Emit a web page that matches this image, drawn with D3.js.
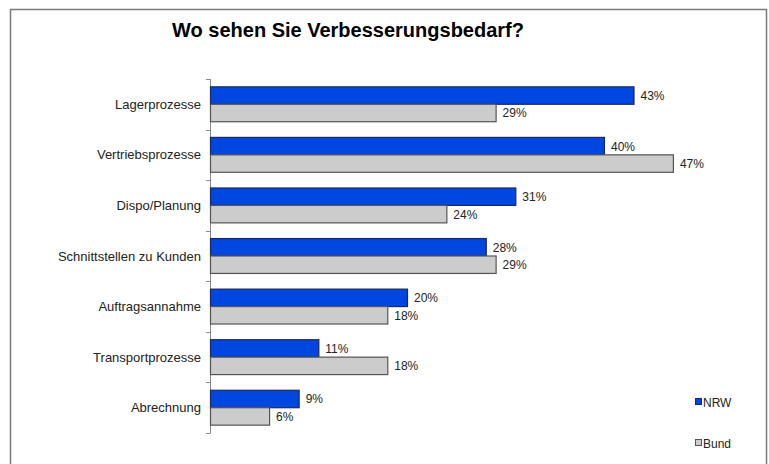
<!DOCTYPE html>
<html>
<head>
<meta charset="utf-8">
<script src="https://cdn.jsdelivr.net/npm/d3@7"></script>
<style>
  body { margin: 0; background: #fff; }
  svg { display: block; font-family: "Liberation Sans", Arial, sans-serif; }
</style>
</head>
<body>
<div id="chart"></div>
<script>
// Daten
const kategorien = [
  "Lagerprozesse",
  "Vertriebsprozesse",
  "Dispo/Planung",
  "Schnittstellen zu Kunden",
  "Auftragsannahme",
  "Transportprozesse",
  "Abrechnung",
];
const werteNRW = [43, 40, 31, 28, 20, 11, 9];
const werteBund = [29, 47, 24, 29, 18, 18, 6];
const serien = ["NRW", "Bund"];

const width = 769;
const height = 464;
const margin = { top: 79, left: 210, bottom: 31 };

const farben = { NRW: "#0046e0", Bund: "#cccccc" };
const rahmen = { NRW: "#1c2a5a", Bund: "#555555" };

const svg = d3
  .select("#chart")
  .append("svg")
  .attr("width", width)
  .attr("height", height);

// Rahmen um das Diagramm (unten offen)
svg
  .append("path")
  .attr("d", `M10.5,${height} V9.5 H766.5 V${height}`)
  .attr("fill", "none")
  .attr("stroke", "#7a7a7a")
  .attr("stroke-width", 1.5);

// Titel
svg
  .append("text")
  .attr("x", 348)
  .attr("y", 37)
  .attr("text-anchor", "middle")
  .style("font-size", "20px")
  .style("font-weight", "bold")
  .text("Wo sehen Sie Verbesserungsbedarf?");

const yScale = d3
  .scaleBand()
  .domain(kategorien)
  .range([margin.top, height - margin.bottom])
  .paddingInner(0.31)
  .paddingOuter(0.155);

const xScale = d3.scaleLinear().domain([0, 43]).range([margin.left, 633.5]);

const ySub = d3
  .scaleBand()
  .domain(serien)
  .range([0, yScale.bandwidth()]);

// Achse
const step = yScale.step();
const ticks = d3.range(kategorien.length + 1).map((i) => margin.top + i * step);

svg
  .append("line")
  .attr("x1", margin.left + 0.5)
  .attr("x2", margin.left + 0.5)
  .attr("y1", margin.top)
  .attr("y2", height - margin.bottom)
  .attr("stroke", "#888")
  .attr("stroke-width", 1);

svg
  .selectAll(".tick")
  .data(ticks)
  .enter()
  .append("line")
  .attr("x1", margin.left - 4)
  .attr("x2", margin.left + 0.5)
  .attr("y1", (d) => Math.round(d) + 0.5)
  .attr("y2", (d) => Math.round(d) + 0.5)
  .attr("stroke", "#888");

// Kategoriebeschriftung
svg
  .selectAll(".kat")
  .data(kategorien)
  .enter()
  .append("text")
  .attr("x", 201)
  .attr("y", (d) => yScale(d) + yScale.bandwidth() / 2 + 4.5)
  .attr("text-anchor", "end")
  .style("font-size", "13px")
  .style("fill", "#222")
  .text((d) => d);

// Balken
const zeilen = kategorien.map((k, i) => ({
  kategorie: k,
  werte: [
    { serie: "NRW", wert: werteNRW[i] },
    { serie: "Bund", wert: werteBund[i] },
  ],
}));

const gruppen = svg
  .selectAll(".gruppe")
  .data(zeilen)
  .enter()
  .append("g")
  .attr("transform", (d) => `translate(0,${yScale(d.kategorie)})`);

gruppen
  .selectAll("rect")
  .data((d) => d.werte)
  .enter()
  .append("rect")
  .attr("x", margin.left + 0.5)
  .attr("y", (d) => ySub(d.serie))
  .attr("width", (d) => xScale(d.wert) - margin.left)
  .attr("height", ySub.bandwidth())
  .attr("fill", (d) => farben[d.serie])
  .attr("stroke", (d) => rahmen[d.serie])
  .attr("stroke-width", 1.2);

gruppen
  .selectAll(".wert")
  .data((d) => d.werte)
  .enter()
  .append("text")
  .attr("x", (d) => xScale(d.wert) + 7)
  .attr("y", (d) => ySub(d.serie) + ySub.bandwidth() / 2 + 4.5)
  .style("font-size", "12px")
  .style("fill", "#222")
  .text((d) => `${d.wert}%`);

// Legende
const legendeY = { NRW: 402, Bund: 443 };
serien.forEach((s) => {
  svg
    .append("rect")
    .attr("x", 695.5)
    .attr("y", legendeY[s] - 3.5)
    .attr("width", 6)
    .attr("height", 6)
    .attr("fill", farben[s])
    .attr("stroke", rahmen[s]);
  svg
    .append("text")
    .attr("x", 703)
    .attr("y", legendeY[s] + 4.5)
    .style("font-size", "12px")
    .style("fill", "#222")
    .text(s);
});
</script>
</body>
</html>
